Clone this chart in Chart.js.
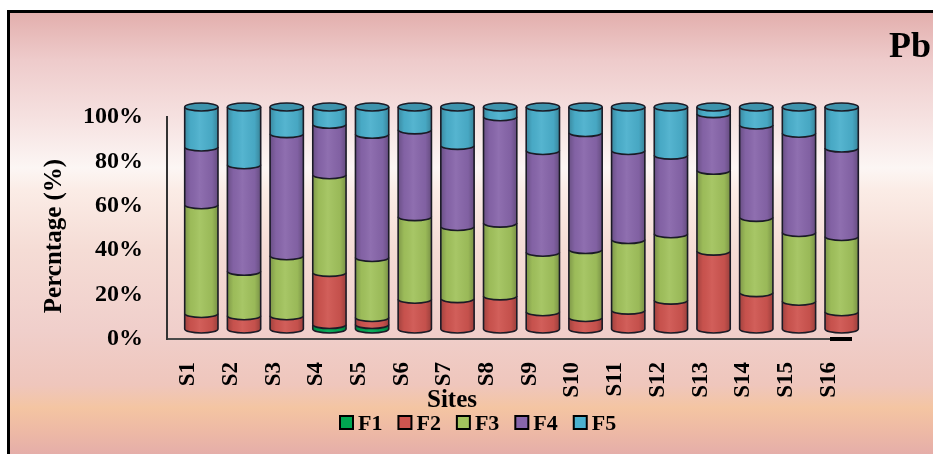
<!DOCTYPE html>
<html>
<head>
<meta charset="utf-8">
<script src="https://cdn.jsdelivr.net/npm/chart.js@4.4.1/dist/chart.umd.min.js"></script>
<style>
  html, body { margin: 0; padding: 0; background: #ffffff; width: 933px; height: 454px; overflow: hidden; }
  #frame {
    position: absolute; left: 7px; top: 10px; width: 1000px; height: 441px;
    border-left: 3px solid #000; border-top: 3px solid #000;
    background: linear-gradient(to bottom,
      #e3afad 0px, #eecbcb 47px, #f6e2e1 107px, #fcf6f4 155px, #fbece6 177px,
      #f5dcd5 237px, #f0cfcb 317px, #efc6bc 372px, #f4c5a2 395px, #eebaa5 417px, #e5aea9 441px);
  }
  #c { position: absolute; left: 0; top: 0; }
</style>
</head>
<body>
<div id="frame"></div>
<canvas id="c" width="933" height="454"></canvas>
<script>
// Sampling sites and the five Pb fractions (percent of total)
const sites = ['S1','S2','S3','S4','S5','S6','S7','S8','S9','S10','S11','S12','S13','S14','S15','S16'];
const fractionNames = ['F1','F2','F3','F4','F5'];
const f1 = [0,   0,  0,  2,    2,    0,    0,    0,    0,    0,    0,    0,    0,    0,    0,    0];
const f2 = [7,   6,  6,  23.5, 3.2,  13.4, 13.7, 14.9, 7.8,  5.2,  8.5,  13,   35.1, 16.4, 12.5, 7.8];
const f3 = [49,  20, 27, 44,   27,   37.2, 32.5, 32.8, 26.8, 30.6, 31.8, 29.9, 36.4, 33.9, 31,   33.9];
const f4 = [26,  48, 55, 22.7, 55.5, 39.1, 36.5, 47.9, 45.8, 52.7, 40.1, 35.4, 25.5, 41.6, 44.7, 39.8];
const f5 = [18,  26, 12, 7.8,  12.3, 10.3, 17.3, 4.4,  19.6, 11.5, 19.6, 21.7, 3,    8.1,  11.8, 18.5];
const yTicks = [0, 20, 40, 60, 80, 100];
const fractionColors = ['#00a651', '#cf5550', '#a2c35d', '#8866ab', '#4bb0cd'];

const SERIF = "'Liberation Serif', 'Times New Roman', serif";
const DEPTH_X = 13, DEPTH_Y = -10, RY = 4;
const OUTLINE = '#1b1b26';

// Turns each stacked bar segment into a cylinder slice, shifted back for depth
const cylinderPlugin = {
  id: 'cylinders',
  beforeDatasetsDraw(chart) {
    chart.ctx.save();
    chart.ctx.translate(DEPTH_X, DEPTH_Y);
  },
  afterDatasetsDraw(chart) {
    const ctx = chart.ctx;
    const n = chart.data.labels.length;
    for (let i = 0; i < n; i++) {
      let topSeg = null;
      chart.data.datasets.forEach((ds, di) => {
        const el = chart.getDatasetMeta(di).data[i];
        const p = el.getProps(['x', 'y', 'base', 'width'], true);
        const top = Math.min(p.y, p.base), bot = Math.max(p.y, p.base);
        if (bot - top < 0.2) return;
        const rx = p.width / 2, l = p.x - rx, r = p.x + rx;
        ctx.beginPath();
        ctx.moveTo(l, top);
        ctx.lineTo(l, bot);
        ctx.ellipse(p.x, bot, rx, RY, 0, Math.PI, 0, true);
        ctx.lineTo(r, top);
        ctx.closePath();
        ctx.fillStyle = ds.backgroundColor;
        ctx.fill();
        const g = ctx.createLinearGradient(l, 0, r, 0);
        g.addColorStop(0, 'rgba(0,0,0,0.22)');
        g.addColorStop(0.18, 'rgba(0,0,0,0.04)');
        g.addColorStop(0.45, 'rgba(255,255,255,0.06)');
        g.addColorStop(0.82, 'rgba(0,0,0,0.05)');
        g.addColorStop(1, 'rgba(0,0,0,0.25)');
        ctx.fillStyle = g;
        ctx.fill();
        ctx.beginPath();
        ctx.moveTo(l, top);
        ctx.lineTo(l, bot);
        ctx.ellipse(p.x, bot, rx, RY, 0, Math.PI, 0, true);
        ctx.lineTo(r, top);
        ctx.strokeStyle = OUTLINE;
        ctx.lineWidth = 1.6;
        ctx.stroke();
        topSeg = { x: p.x, y: top, rx, color: ds.backgroundColor };
      });
      if (topSeg) {
        ctx.beginPath();
        ctx.ellipse(topSeg.x, topSeg.y, topSeg.rx, RY, 0, 0, Math.PI * 2);
        ctx.fillStyle = topSeg.color;
        ctx.fill();
        ctx.fillStyle = 'rgba(0,0,0,0.16)';
        ctx.fill();
        ctx.strokeStyle = OUTLINE;
        ctx.lineWidth = 1.6;
        ctx.stroke();
      }
    }
    ctx.restore();
  },
  afterDraw(chart) {
    const ctx = chart.ctx;
    const area = chart.chartArea;
    ctx.save();
    // floor edge mark at the right end of the category axis
    ctx.fillStyle = '#000';
    ctx.fillRect(area.right - 20, area.bottom - 2, 22, 4);
    // value axis title
    ctx.font = 'bold 25px ' + SERIF;
    ctx.textAlign = 'center';
    ctx.textBaseline = 'middle';
    ctx.save();
    ctx.translate(55, 236);
    ctx.rotate(-Math.PI / 2);
    ctx.fillText('Percntage (%)', 0, 0);
    ctx.restore();
    // category axis title under the site labels
    ctx.textBaseline = 'alphabetic';
    ctx.fillText('Sites', 452, 407);
    // chart label
    ctx.font = 'bold 36px ' + SERIF;
    ctx.textAlign = 'right';
    ctx.fillText('Pb', 931, 57);
    // legend
    ctx.font = 'bold 22px ' + SERIF;
    ctx.textAlign = 'left';
    let lx = 340;
    chart.data.datasets.forEach(ds => {
      ctx.fillStyle = ds.backgroundColor;
      ctx.fillRect(lx, 416, 13, 13);
      ctx.strokeStyle = '#000';
      ctx.lineWidth = 2;
      ctx.strokeRect(lx, 416, 13, 13);
      ctx.fillStyle = '#000';
      ctx.fillText(ds.label, lx + 18, 430);
      lx += 18 + ctx.measureText(ds.label).width + 16;
    });
    ctx.restore();
  }
};

const seriesValues = [f1, f2, f3, f4, f5];

new Chart(document.getElementById('c'), {
  type: 'bar',
  data: {
    labels: sites,
    datasets: fractionNames.map((name, k) => ({
      label: name,
      data: seriesValues[k],
      backgroundColor: fractionColors[k],
      borderWidth: 0,
      categoryPercentage: 1,
      barPercentage: 0.78,
      clip: false
    }))
  },
  options: {
    responsive: false,
    animation: false,
    layout: { padding: { left: 10, right: 83, top: 117, bottom: 0 } },
    plugins: { legend: { display: false }, title: { display: false }, tooltip: { enabled: false } },
    scales: {
      x: {
        stacked: true,
        grid: { display: false, drawTicks: false },
        border: { display: true, color: '#4a4a4a', width: 2 },
        ticks: {
          color: '#000', autoSkip: false, minRotation: 90, maxRotation: 90, padding: 23,
          font: { family: SERIF, size: 23, weight: 'bold' }
        },
        afterFit(scale) { scale.height = 115; }
      },
      y: {
        stacked: true,
        min: 0, max: 100,
        afterBuildTicks(scale) { scale.ticks = yTicks.map(v => ({ value: v })); },
        grid: { display: false, drawTicks: false },
        border: { display: true, color: '#333', width: 2 },
        ticks: {
          color: '#000', padding: 24,
          font: { family: SERIF, size: 24, weight: 'bold' },
          callback: v => v + '%'
        },
        afterFit(scale) { scale.width = 157; }
      }
    }
  },
  plugins: [cylinderPlugin]
});
</script>
</body>
</html>
